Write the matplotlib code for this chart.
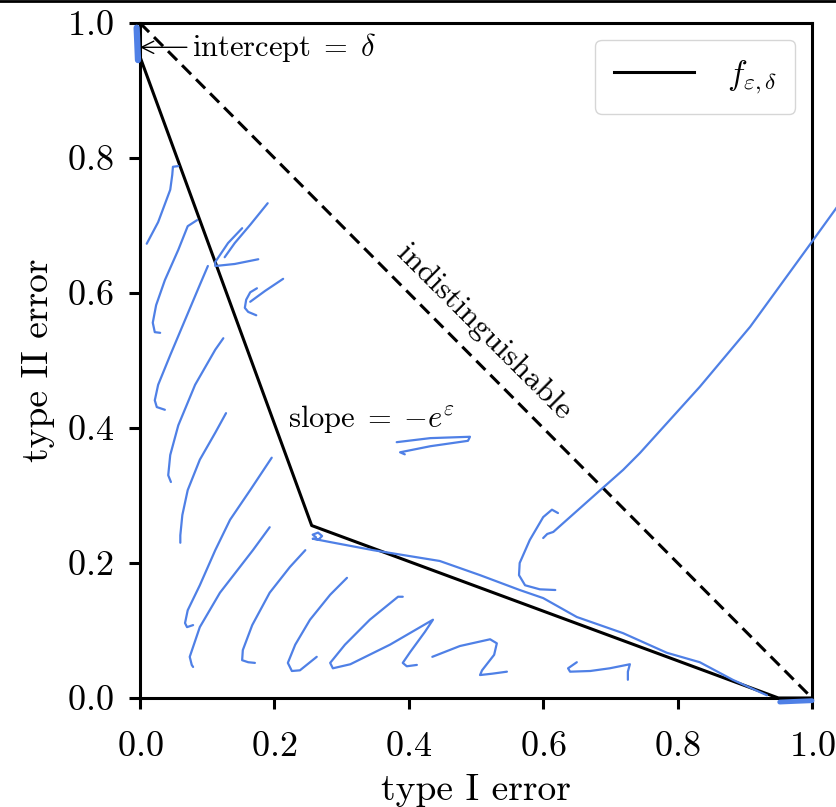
import numpy as np
import matplotlib
matplotlib.use("Agg")
import matplotlib.pyplot as plt
from matplotlib.lines import Line2D

plt.rcParams["font.family"] = "serif"
plt.rcParams["font.serif"] = ["cmr10", "DejaVu Serif"]
plt.rcParams["mathtext.fontset"] = "cm"
plt.rcParams["axes.formatter.use_mathtext"] = True

# trade-off curve f_{eps,delta} with eps = 1, delta = 0.05
eps = 1.0
delta = 0.05
kink = (1 - delta) / (1 + np.exp(eps))
f_x = [0.0, kink, 1 - delta, 1.0]
f_y = [1 - delta, kink, 0.0, 0.0]
diag_x = [0.0, 1.0]
diag_y = [1.0, 0.0]
ticks = [0.0, 0.2, 0.4, 0.6, 0.8, 1.0]

# hand-drawn blue pen strokes (data coords)
s1_x = [0.010, 0.027, 0.045, 0.048, 0.049, 0.057]
s1_y = [0.673, 0.705, 0.753, 0.775, 0.787, 0.788]
s2_x = [0.085, 0.071, 0.057, 0.037, 0.024, 0.019, 0.022, 0.030]
s2_y = [0.708, 0.699, 0.664, 0.619, 0.582, 0.556, 0.542, 0.541]
s3_x = [0.101, 0.089, 0.067, 0.045, 0.027, 0.022, 0.025, 0.037]
s3_y = [0.640, 0.612, 0.560, 0.508, 0.464, 0.441, 0.431, 0.427]
s4_x = [0.124, 0.112, 0.082, 0.057, 0.045, 0.042, 0.046]
s4_y = [0.533, 0.516, 0.464, 0.404, 0.360, 0.330, 0.320]
s5_x = [0.128, 0.112, 0.089, 0.071, 0.063, 0.060, 0.060]
s5_y = [0.422, 0.393, 0.353, 0.308, 0.271, 0.241, 0.230]
s6_x = [0.196, 0.164, 0.134, 0.112, 0.089, 0.071, 0.067, 0.070, 0.079]
s6_y = [0.356, 0.308, 0.264, 0.219, 0.167, 0.130, 0.111, 0.105, 0.108]
s7_x = [0.193, 0.168, 0.119, 0.089, 0.074, 0.077, 0.079]
s7_y = [0.253, 0.219, 0.156, 0.105, 0.061, 0.049, 0.046]
s8_x = [0.246, 0.223, 0.193, 0.167, 0.153, 0.152, 0.161, 0.171]
s8_y = [0.219, 0.194, 0.156, 0.108, 0.071, 0.056, 0.053, 0.052]
s9_x = [0.308, 0.283, 0.253, 0.231, 0.220, 0.226, 0.238, 0.263]
s9_y = [0.178, 0.153, 0.116, 0.079, 0.052, 0.040, 0.041, 0.061]
s10_x = [0.391, 0.384, 0.342, 0.305, 0.283, 0.287, 0.313, 0.372, 0.436,
         0.424, 0.402, 0.391, 0.397, 0.412]
s10_y = [0.150, 0.150, 0.116, 0.079, 0.052, 0.044, 0.050, 0.079, 0.116,
         0.098, 0.068, 0.052, 0.047, 0.049]
s11_x = [0.435, 0.476, 0.521, 0.531, 0.527, 0.509, 0.506, 0.524, 0.546]
s11_y = [0.061, 0.077, 0.087, 0.081, 0.064, 0.041, 0.034, 0.036, 0.039]
s12_x = [0.650, 0.637, 0.640, 0.670, 0.699, 0.729, 0.726, 0.726]
s12_y = [0.053, 0.044, 0.039, 0.040, 0.044, 0.050, 0.039, 0.027]
s13_x = [0.262, 0.257, 0.265, 0.271, 0.266, 0.257, 0.283, 0.347, 0.446,
         0.506, 0.565, 0.600, 0.650, 0.719, 0.784, 0.833, 0.882, 0.933]
s13_y = [0.238, 0.242, 0.245, 0.240, 0.235, 0.236, 0.231, 0.219, 0.203,
         0.182, 0.160, 0.148, 0.120, 0.096, 0.067, 0.053, 0.027, 0.004]
s14_x = [0.622, 0.613, 0.600, 0.580, 0.565, 0.564, 0.573, 0.595, 0.618]
s14_y = [0.274, 0.279, 0.268, 0.234, 0.200, 0.182, 0.167, 0.161, 0.160]
s15_x = [0.600, 0.606, 0.615, 0.685, 0.719, 0.744, 0.833, 0.908, 1.000,
         1.037, 1.071]
s15_y = [0.237, 0.243, 0.246, 0.308, 0.338, 0.363, 0.461, 0.550, 0.676,
         0.727, 0.756]
s16_x = [0.382, 0.432, 0.491, 0.488, 0.432, 0.387, 0.394]
s16_y = [0.379, 0.385, 0.387, 0.381, 0.373, 0.364, 0.361]
s17_x = [0.190, 0.164, 0.141, 0.126]
s17_y = [0.733, 0.701, 0.674, 0.653]
s18_x = [0.152, 0.131, 0.112, 0.112, 0.141, 0.176]
s18_y = [0.696, 0.674, 0.646, 0.640, 0.643, 0.650]
s19_x = [0.213, 0.186, 0.164]
s19_y = [0.621, 0.603, 0.587]
s20_x = [0.174, 0.164, 0.158, 0.156, 0.161, 0.173]
s20_y = [0.607, 0.601, 0.590, 0.578, 0.572, 0.567]
thin_strokes = [(s1_x, s1_y), (s2_x, s2_y), (s3_x, s3_y), (s4_x, s4_y),
                (s5_x, s5_y), (s6_x, s6_y), (s7_x, s7_y), (s8_x, s8_y),
                (s9_x, s9_y), (s10_x, s10_y), (s11_x, s11_y), (s12_x, s12_y),
                (s13_x, s13_y), (s14_x, s14_y), (s15_x, s15_y), (s16_x, s16_y),
                (s17_x, s17_y), (s18_x, s18_y), (s19_x, s19_y), (s20_x, s20_y)]
# thick marker blobs
blob1_x = [-0.005, -0.004, -0.003]
blob1_y = [0.993, 0.970, 0.945]
blob2_x = [0.952, 0.975, 1.0]
blob2_y = [-0.006, -0.005, -0.004]

pen = "#4f80e6"

fig = plt.figure(figsize=(8.37, 8.07), dpi=100)
ax = fig.add_axes([140 / 837, 109 / 807, 672 / 837, 675 / 807])

ax.plot(diag_x, diag_y, color="black", ls=(0, (4.2, 2.3)), lw=2.2)
ax.plot(f_x, f_y, color="black", lw=2.2, label=r"$f_{\varepsilon,\delta}$")

for sx, sy in thin_strokes:
    ax.plot(sx, sy, color=pen, lw=1.6, solid_capstyle="round", solid_joinstyle="round",
            clip_on=False, zorder=4)
ax.plot(blob1_x, blob1_y, color=pen, lw=4.5, solid_capstyle="round", clip_on=False, zorder=4)
ax.plot(blob2_x, blob2_y, color=pen, lw=3.5, solid_capstyle="round", clip_on=False, zorder=4)

ax.annotate(r"$\mathrm{intercept}\;=\;\delta$", xy=(0.0, 0.964), xytext=(0.078, 0.964),
            ha="left", va="center", fontsize=22,
            arrowprops=dict(arrowstyle="->", color="black", lw=1.0, shrinkA=2, shrinkB=0))
ax.text(0.345, 0.414, r"$\mathrm{slope}\;=\;{-}e^{\varepsilon}$", ha="center", va="center",
        fontsize=22)
ax.text(0.512, 0.542, "indistinguishable", ha="center", va="center", rotation=-45,
        rotation_mode="anchor", fontsize=23)

ax.set_xlim(0, 1)
ax.set_ylim(0, 1)
ax.set_xticks(ticks)
ax.set_yticks(ticks)
ax.tick_params(labelsize=26, length=8, width=2.2)
ax.tick_params(axis="x", pad=16)
ax.tick_params(axis="y", pad=11)
for sp in ax.spines.values():
    sp.set_linewidth(2.2)
ax.set_xlabel("type I error", fontsize=27, labelpad=8)
ax.set_ylabel("type II error", fontsize=27, labelpad=8)

ax.legend(loc="upper right", fontsize=24, handlelength=2.4, handletextpad=1.0,
          borderpad=0.55, borderaxespad=0.5, framealpha=0.8)

fig.add_artist(Line2D([0, 1], [0.999, 0.999], color="black", lw=2, transform=fig.transFigure))

fig.savefig("out.png", dpi=100)
